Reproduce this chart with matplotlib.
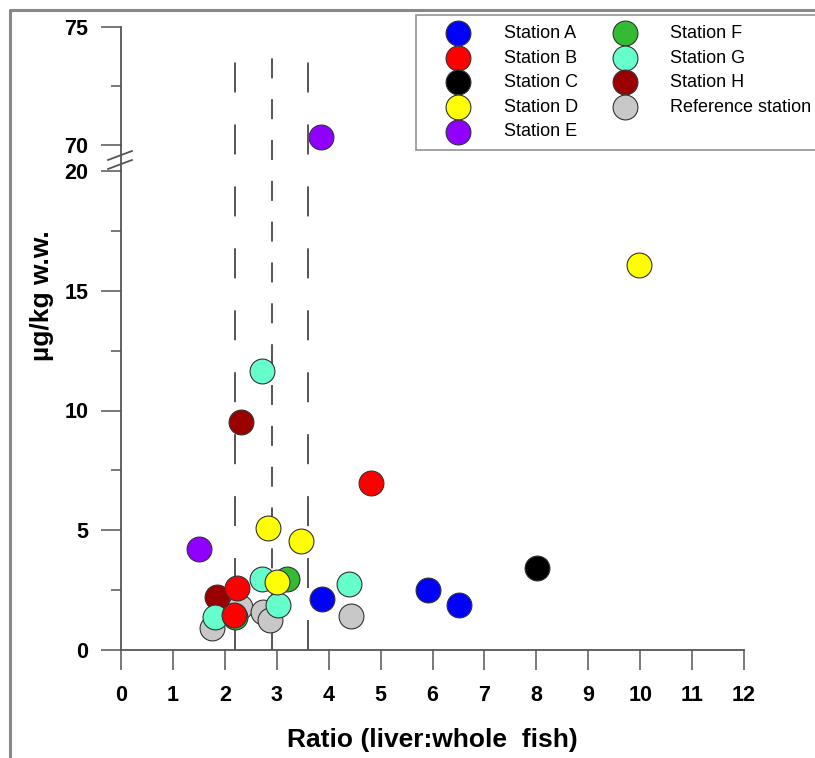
import matplotlib
matplotlib.use('Agg')
import matplotlib.pyplot as plt
from matplotlib.lines import Line2D
from matplotlib.ticker import MultipleLocator

plt.rcParams['font.family'] = ['Liberation Sans', 'DejaVu Sans']
plt.rcParams['lines.scale_dashes'] = False

stations = ['Station A', 'Station B', 'Station C', 'Station D', 'Station E',
            'Station F', 'Station G', 'Station H', 'Reference station']
colors = ['#0000ff', '#ff0000', '#000000', '#ffff00', '#8f00ff',
          '#33bb33', '#66ffcc', '#9a0000', '#c8c8c8']

ratio_a = [3.87, 5.92, 6.51]
conc_a = [2.13, 2.50, 1.88]
ratio_b = [4.82, 2.24, 2.18]
conc_b = [6.97, 2.59, 1.46]
ratio_c = [8.02]
conc_c = [3.42]
ratio_d = [9.98, 2.84, 3.46, 3.00]
conc_d = [16.07, 5.08, 4.55, 2.84]
ratio_e = [3.85, 1.50]
conc_e = [70.34, 4.22]
ratio_f = [3.20, 2.20]
conc_f = [2.98, 1.36]
ratio_g = [2.72, 2.72, 3.03, 4.39, 1.81]
conc_g = [11.65, 2.98, 1.88, 2.75, 1.38]
ratio_h = [2.31, 1.85]
conc_h = [9.52, 2.21]
ratio_ref = [1.75, 2.29, 2.74, 2.87, 4.43]
conc_ref = [0.92, 1.80, 1.59, 1.25, 1.42]

ratios = [ratio_a, ratio_b, ratio_c, ratio_d, ratio_e, ratio_f, ratio_g, ratio_h, ratio_ref]
concs = [conc_a, conc_b, conc_c, conc_d, conc_e, conc_f, conc_g, conc_h, conc_ref]

# dashed reference lines (ratio) and where they stop at the top
dash_x = [2.2, 2.9, 3.6]
dash_top = [73.6, 74.0, 73.6]

W, H = 815, 758
fig = plt.figure(figsize=(W / 100, H / 100), dpi=100)

def fx(px):
    return px / W

def fy(py):
    return (H - py) / H

ax_top = fig.add_axes([fx(121), fy(145), fx(744) - fx(121), fy(27) - fy(145)])
ax_bot = fig.add_axes([fx(121), fy(650), fx(744) - fx(121), fy(171) - fy(650)])

axis_col = '#555555'
for ax in (ax_top, ax_bot):
    ax.set_xlim(0, 12)
    for s in ('top', 'right'):
        ax.spines[s].set_visible(False)
    ax.spines['left'].set_color(axis_col)
    ax.spines['left'].set_linewidth(1.3)
    ax.spines['bottom'].set_color(axis_col)
    ax.spines['bottom'].set_linewidth(1.3)
    ax.tick_params(which='major', length=14.4, width=1.1, color=axis_col,
                   labelsize=15.5)
    ax.tick_params(axis='y', pad=9)
    ax.tick_params(axis='x', pad=11)
    ax.tick_params(which='minor', length=7.2, width=1.1, color=axis_col)

ax_bot.set_ylim(0, 20)
ax_bot.yaxis.set_minor_locator(MultipleLocator(2.5))
ax_bot.set_xticks(range(0, 13))
ax_bot.set_xticklabels([str(i) for i in range(0, 13)], fontweight='bold')
ax_bot.set_yticks([0, 5, 10, 15, 20])
ax_bot.set_yticklabels(['0', '5', '10', '15', '20'], fontweight='bold')

ax_top.set_ylim(70, 75)
ax_top.set_yticks([70, 75])
ax_top.set_yticklabels(['70', '75'], fontweight='bold')
ax_top.yaxis.set_minor_locator(MultipleLocator(2.5))
ax_top.spines['bottom'].set_visible(False)
ax_top.tick_params(axis='x', which='both', bottom=False, labelbottom=False)

# points, reference station drawn first so station A ends on top
handles = {}
for i in reversed(range(len(stations))):
    lo_x = [x for x, y in zip(ratios[i], concs[i]) if y < 50]
    lo_y = [y for y in concs[i] if y < 50]
    hi_x = [x for x, y in zip(ratios[i], concs[i]) if y >= 50]
    hi_y = [y for y in concs[i] if y >= 50]
    sc = ax_bot.scatter(lo_x, lo_y, s=320, c=colors[i], edgecolors='#333333',
                        linewidths=0.8, zorder=3, clip_on=False)
    if hi_x:
        ax_top.scatter(hi_x, hi_y, s=320, c=colors[i], edgecolors='#333333',
                       linewidths=0.8, zorder=3, clip_on=False)
    handles[stations[i]] = sc

# dashed lines run from 0 up through the break into the top panel
fig.canvas.draw()
for x, top, d in zip(dash_x, dash_top, [(21.6, 23), (14.4, 15), (21.6, 23)]):
    disp = ax_top.transData.transform((x, top))
    y_end = ax_bot.transData.inverted().transform(disp)[1]
    ax_bot.plot([x, x], [0, y_end], color='#555555', lw=1.4,
                dashes=d, clip_on=False, zorder=2)

# axis continuation and break marks
fig.add_artist(Line2D([fx(121), fx(121)], [fy(171), fy(145)], color=axis_col, lw=1.3))
for y0 in (160, 169):
    fig.add_artist(Line2D([fx(108), fx(132)], [fy(y0), fy(y0 - 9)], color=axis_col, lw=1.3))

ax_bot.set_xlabel('Ratio (liver:whole  fish)', fontsize=19, fontweight='bold', labelpad=16)
fig.text(fx(42), fy(296), 'µg/kg w.w.', rotation=90, fontsize=19, fontweight='bold',
         ha='center', va='center')

leg = fig.legend([handles[s] for s in stations], stations, ncol=2,
                 loc='upper left', bbox_to_anchor=(fx(416), fy(15)),
                 bbox_transform=fig.transFigure, fontsize=13, frameon=True,
                 fancybox=False, edgecolor='#777777', borderpad=0.55,
                 handlelength=3.6, handletextpad=0.7, labelspacing=0.42,
                 columnspacing=0.8, borderaxespad=0, scatterpoints=1)
leg.get_frame().set_linewidth(1.2)

# outer frame of the figure
fig.add_artist(Line2D([fx(10), fx(10), 1.0], [0.0, fy(10), fy(10)],
                      color='#888888', lw=2.2))

fig.savefig('out.png', dpi=100)
